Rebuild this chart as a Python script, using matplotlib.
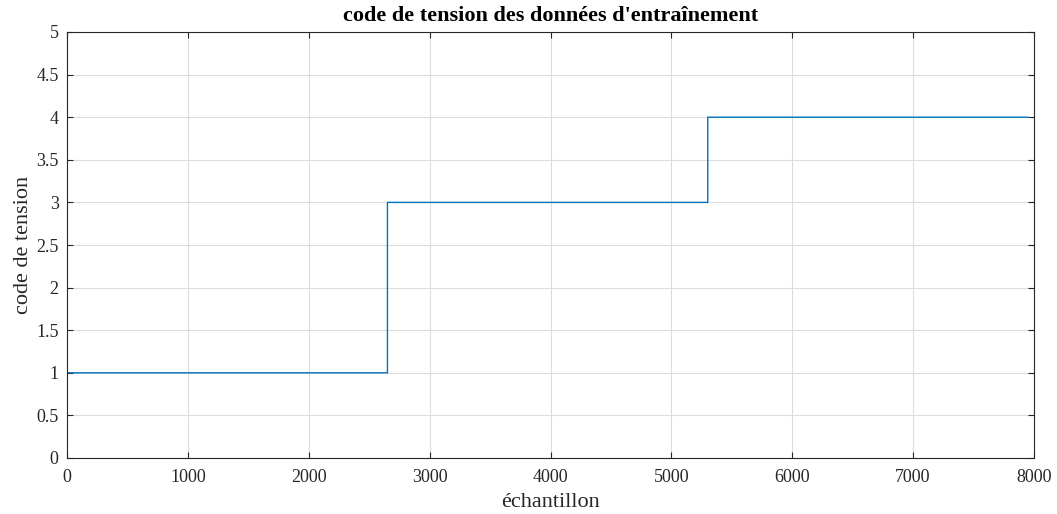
import numpy as np
import matplotlib
matplotlib.use("Agg")
import matplotlib.pyplot as plt

# voltage code for each block of training samples
block_lengths = [2650, 2650, 2650]
block_codes = [1, 3, 4]

codes = np.concatenate([np.full(n, c) for n, c in zip(block_lengths, block_codes)])
samples = np.arange(1, len(codes) + 1)

plt.rcParams['font.family'] = ['Liberation Serif', 'DejaVu Serif']

fig = plt.figure(figsize=(10.57, 5.14), dpi=100)
ax = fig.add_axes([67 / 1057, 1 - 458 / 514, (1034 - 67) / 1057, (458 - 32) / 514])

ax.step(samples, codes, where='post', color='#0072BD', linewidth=1.0)

ax.set_xlim(0, 8000)
ax.set_ylim(0, 5)
ax.set_xticks(np.arange(0, 8001, 1000))
ax.set_yticks(np.arange(0, 5.01, 0.5))
ax.set_yticklabels(['0', '0.5', '1', '1.5', '2', '2.5', '3', '3.5', '4', '4.5', '5'])

ax.grid(True, color='#dcdcdc', linewidth=0.8)
ax.set_axisbelow(True)
ax.tick_params(direction='in', top=True, right=True, length=4, width=0.8,
               labelsize=13, colors='#262626')
ax.tick_params(axis='x', pad=8)
ax.tick_params(axis='y', pad=6)
for s in ax.spines.values():
    s.set_color('#262626')
    s.set_linewidth(0.8)

ax.set_title("code de tension des données d'entraînement", fontsize=16,
             fontweight='bold', color='black', pad=8)
ax.set_xlabel('échantillon', fontsize=16, color='#262626', labelpad=5)
ax.set_ylabel('code de tension', fontsize=16, color='#262626', labelpad=2)

fig.savefig('out.png', dpi=100)
